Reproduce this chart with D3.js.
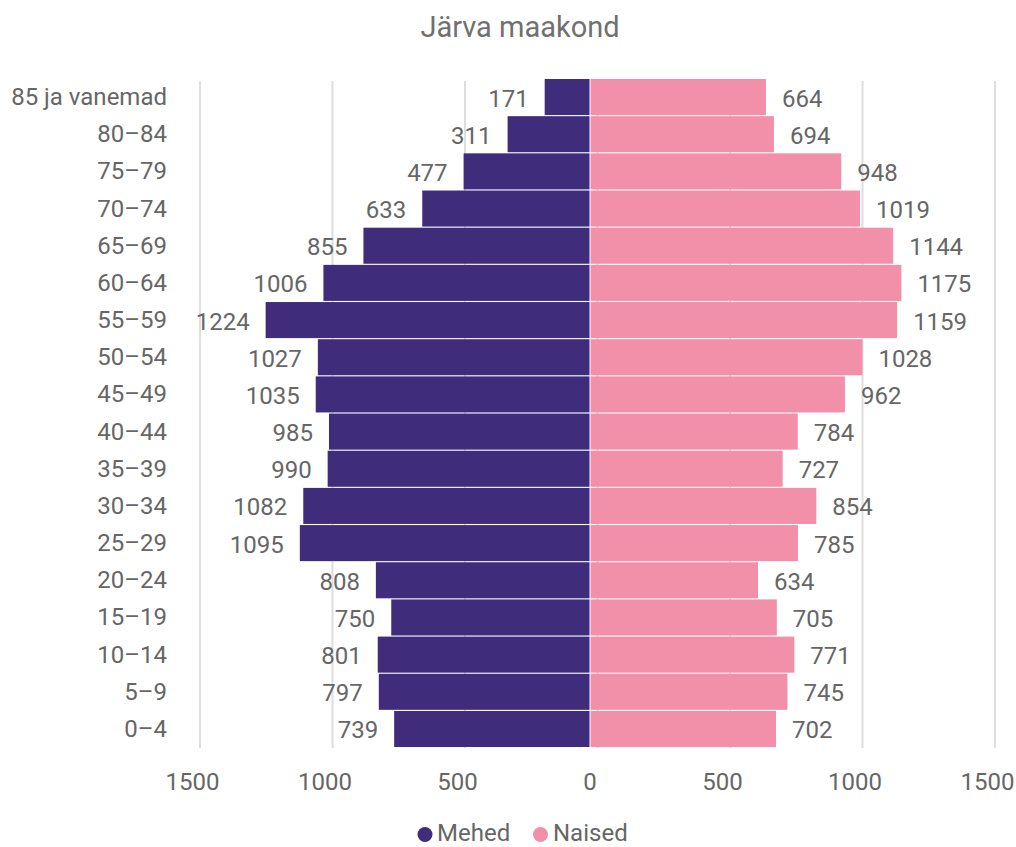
<!DOCTYPE html>
<html>
<head>
<meta charset="utf-8">
<script src="https://cdn.jsdelivr.net/npm/d3@7"></script>
<style>
  html, body { margin: 0; padding: 0; background: #fff; }
  svg { display: block; font-family: Roboto, sans-serif; }
</style>
</head>
<body>
<svg id="chart" width="1016" height="847"></svg>
<script>
const title = "Järva maakond";
const categories = ["85 ja vanemad", "80–84", "75–79", "70–74", "65–69", "60–64", "55–59", "50–54", "45–49", "40–44", "35–39", "30–34", "25–29", "20–24", "15–19", "10–14", "5–9", "0–4"];
const men = [171, 311, 477, 633, 855, 1006, 1224, 1027, 1035, 985, 990, 1082, 1095, 808, 750, 801, 797, 739];
const women = [664, 694, 948, 1019, 1144, 1175, 1159, 1028, 962, 784, 727, 854, 785, 634, 705, 771, 745, 702];
const tickValues = [-1500, -1000, -500, 0, 500, 1000, 1500];
const seriesNames = ["Mehed", "Naised"];
const colors = ["#3f2c7b", "#f28fa9"];

const svg = d3.select("#chart");
const textColor = "#666666";

// grid scale and value scale (gridlines sit slightly right of the value scale, as in reference)
const xGrid = d3.scaleLinear().domain([-1500, 1500]).range([200, 995]);
const x = d3.scaleLinear().domain([-1500, 1500]).range([192.5, 987.5]);
const y = d3.scaleBand().domain(categories).range([79, 747]).paddingInner(0.03).paddingOuter(0);

// title
svg.append("text")
  .attr("x", 520).attr("y", 36.5)
  .attr("text-anchor", "middle")
  .attr("font-size", 29).attr("fill", "#707070")
  .text(title);

// gridlines
svg.append("g").selectAll("line").data(tickValues).join("line")
  .attr("x1", d => xGrid(d)).attr("x2", d => xGrid(d))
  .attr("y1", 81).attr("y2", 748)
  .attr("stroke", "#dedede").attr("stroke-width", 2);

// tick labels
svg.append("g").selectAll("text").data(tickValues).join("text")
  .attr("x", d => x(d)).attr("y", 790)
  .attr("text-anchor", "middle")
  .attr("font-size", 24).attr("fill", textColor)
  .text(d => Math.abs(d));

// category labels
svg.append("g").selectAll("text").data(categories).join("text")
  .attr("x", 167).attr("y", d => y(d) + y.bandwidth() / 2 + 8)
  .attr("text-anchor", "end")
  .attr("font-size", 24).attr("fill", textColor)
  .text(d => d);

// men bars
svg.append("g").selectAll("rect").data(categories).join("rect")
  .attr("x", (d, i) => x(-men[i]))
  .attr("width", (d, i) => x(0) - 0.5 - x(-men[i]))
  .attr("y", d => y(d)).attr("height", y.bandwidth())
  .attr("fill", colors[0]);

// women bars
svg.append("g").selectAll("rect").data(categories).join("rect")
  .attr("x", x(0) + 0.5)
  .attr("width", (d, i) => x(women[i]) - x(0) - 0.5)
  .attr("y", d => y(d)).attr("height", y.bandwidth())
  .attr("fill", colors[1]);

// value labels
svg.append("g").selectAll("text").data(categories).join("text")
  .attr("x", (d, i) => x(-men[i]) - 16)
  .attr("y", d => y(d) + y.bandwidth() / 2 + 9.5)
  .attr("text-anchor", "end")
  .attr("font-size", 24).attr("fill", textColor)
  .text((d, i) => men[i]);

svg.append("g").selectAll("text").data(categories).join("text")
  .attr("x", (d, i) => x(women[i]) + 16)
  .attr("y", d => y(d) + y.bandwidth() / 2 + 9.5)
  .attr("text-anchor", "start")
  .attr("font-size", 24).attr("fill", textColor)
  .text((d, i) => women[i]);

// legend
const legendItems = [
  { name: seriesNames[0], color: colors[0], cx: 425, tx: 437 },
  { name: seriesNames[1], color: colors[1], cx: 540.5, tx: 553 }
];
const lg = svg.append("g");
lg.selectAll("circle").data(legendItems).join("circle")
  .attr("cx", d => d.cx).attr("cy", 834.5).attr("r", 7.5)
  .attr("fill", d => d.color);
lg.selectAll("text").data(legendItems).join("text")
  .attr("x", d => d.tx).attr("y", 841)
  .attr("font-size", 24).attr("fill", textColor)
  .text(d => d.name);
</script>
</body>
</html>
